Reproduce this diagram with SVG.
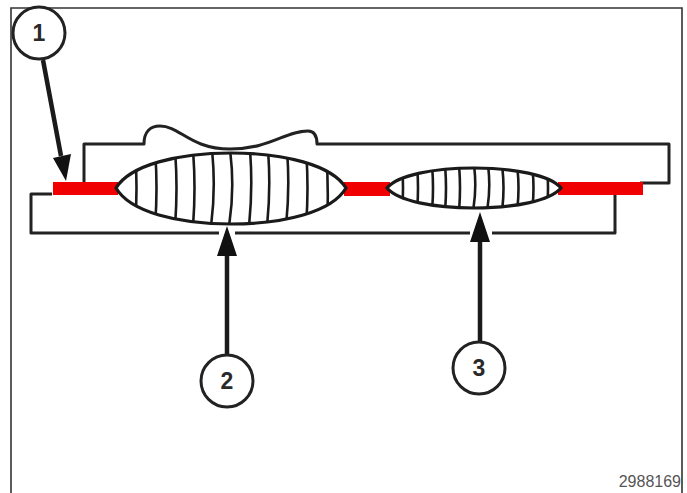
<svg xmlns="http://www.w3.org/2000/svg" width="687" height="493" viewBox="0 0 687 493">
<style>
.o{fill:none;stroke:#222;stroke-width:3;stroke-linejoin:round}
.h{fill:none;stroke:#1a1a1a;stroke-width:2.6}
.c{fill:#fff;stroke:#222;stroke-width:3}
.a{fill:none;stroke:#1a1a1a;stroke-width:4.5}
.t{font-family:"Liberation Sans",Arial,sans-serif;font-weight:700;font-size:23px;fill:#2a2a2a;text-anchor:middle}
</style>
<defs>
<path id="head" d="M0 0L-10 30L10 30Z" fill="#111"/>
<path id="lens-l" d="M116 188C130 165 178 153 231 153C284 153 332 165 346 188C332 212 284 224 231 224C178 224 130 212 116 188Z"/>
<path id="lens-s" d="M387 188C398 175 434 168 474 168C514 168 550 175 561 188C550 201 514 208 474 208C434 208 398 201 387 188Z"/>
<clipPath id="cl"><use href="#lens-l"/></clipPath>
<clipPath id="cs"><use href="#lens-s"/></clipPath>
</defs>
<rect width="687" height="493" fill="#fff"/>
<path d="M11 493V8H682V493" fill="none" stroke="#333" stroke-width="1.6"/>
<g id="plates">
<path class="o" d="M84 182V144H144C144 132 150 126 160 126C180 126 190 149 230 149C270 149 285 131 308 131C315 131 317 136 317 144H669V183H640"/>
<path class="o" d="M52 194H31V233H615V195"/>
<rect x="219" y="230" width="16" height="6" fill="#fff"/>
<rect x="470" y="230" width="22" height="6" fill="#fff"/>
</g>
<g id="seal" fill="#f00000">
<rect x="53" y="182" width="65" height="13"/>
<rect x="344" y="182" width="46" height="14"/>
<rect x="558" y="182" width="85" height="13"/>
</g>
<g id="weld-large">
<use href="#lens-l" fill="#fff"/>
<path class="h" clip-path="url(#cl)" d="M135 150Q138 188 135 226M155 150Q158 188 155 226M175 150Q178 188 175 226M193 150Q196 188 193 226M212 150Q216 188 211 226M230 150Q235 188 229 226M250 150Q253 188 249 226M268 150Q271 188 267 226M287 150Q290 188 286 226M306 150Q309 188 306 226M326 150Q329 188 327 226"/>
<use href="#lens-l" fill="none" stroke="#1a1a1a" stroke-width="3.2"/>
</g>
<g id="weld-small">
<use href="#lens-s" fill="#fff"/>
<path class="h" clip-path="url(#cs)" d="M402 165Q404 188 402 211M417 165Q419 188 417 211M432 165Q434 188 432 211M445 165Q447 188 445 211M459 165Q461 188 459 211M474 165Q477 188 473 211M488 165Q491 188 487 211M502 165Q505 188 502 211M517 165Q520 188 517 211M532 165Q535 188 532 211M547 165Q549 188 547 211"/>
<use href="#lens-s" fill="none" stroke="#1a1a1a" stroke-width="3.2"/>
</g>
<g id="connectors">
<path class="a" d="M43 60L61 156"/>
<path d="M66 181L53 158L71 154Z" fill="#111"/>
<path class="a" d="M227 354V250"/>
<use href="#head" transform="translate(227 226)"/>
<path class="a" d="M480 342V235"/>
<use href="#head" transform="translate(480 212)"/>
</g>
<g id="n1"><circle class="c" cx="39" cy="33" r="26"/><text class="t" x="39" y="41">1</text></g>
<g id="n2"><circle class="c" cx="227" cy="381" r="26"/><text class="t" x="227" y="389">2</text></g>
<g id="n3"><circle class="c" cx="479" cy="368" r="26"/><text class="t" x="479" y="376">3</text></g>
<g id="code"><text x="681" y="487" font-family="Liberation Sans,Arial,sans-serif" font-size="16" fill="#555" text-anchor="end">2988169</text></g>
</svg>
